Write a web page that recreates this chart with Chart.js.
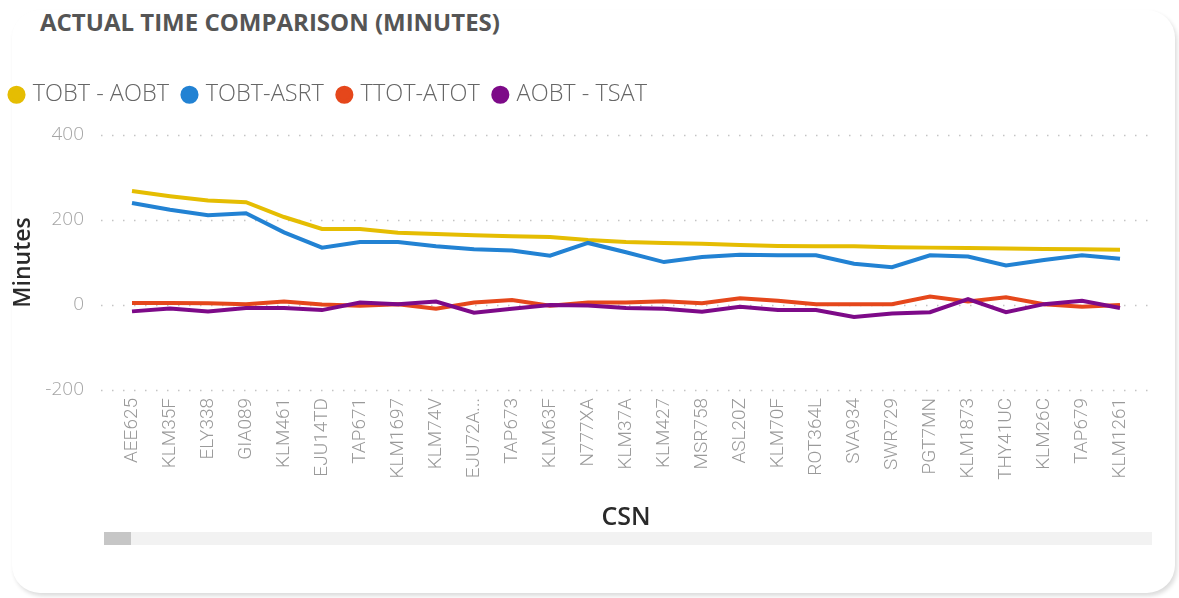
<!DOCTYPE html>
<html>
<head>
<meta charset="utf-8">
<script src="https://cdn.jsdelivr.net/npm/chart.js@4.4.1/dist/chart.umd.min.js"></script>
<style>
  html, body { margin: 0; padding: 0; background: #fff; }
  body { width: 1179px; height: 598px; position: relative; overflow: hidden; }
  .card {
    position: absolute; left: 12px; top: 10px; width: 1163px; height: 583px;
    border-radius: 28px; background: #fff;
    box-shadow: 2px 3px 4px rgba(0, 0, 0, 0.14);
  }
  .title {
    position: absolute; left: 40px; top: 5px;
    font: 700 24px "Open Sans", sans-serif; color: #555;
  }
  .chart-box { position: absolute; left: -4px; top: 67px; width: 1174px; height: 468px; }
  .scroll-track { position: absolute; left: 104px; top: 532px; width: 1048px; height: 13px; background: #f2f2f2; }
  .scroll-thumb { position: absolute; left: 104px; top: 532px; width: 27px; height: 13px; background: #c6c6c6; }
</style>
</head>
<body>
<div class="card"></div>
<div class="title">ACTUAL TIME COMPARISON (MINUTES)</div>
<div class="chart-box"><canvas id="timeChart"></canvas></div>
<div class="scroll-track"></div>
<div class="scroll-thumb"></div>

<script>
// Flights (CSN) on the x axis
const flights = [
  'AEE625', 'KLM35F', 'ELY338', 'GIA089', 'KLM461', 'EJU14TD', 'TAP671', 'KLM1697', 'KLM74V',
  'EJU72A...', 'TAP673', 'KLM63F', 'N777XA', 'KLM37A', 'KLM427', 'MSR758', 'ASL20Z', 'KLM70F',
  'ROT364L', 'SVA934', 'SWR729', 'PGT7MN', 'KLM1873', 'THY41UC', 'KLM26C', 'TAP679', 'KLM1261'
];

// Series values (minutes)
const tobtAobt = [268, 256, 246, 242, 207, 179, 179, 170, 167, 164, 162, 160, 153, 148, 146, 144, 141, 139, 138, 138, 136, 135, 134, 133, 132, 131, 130];
const tobtAsrt = [240, 224, 211, 216, 171, 135, 148, 148, 138, 131, 128, 116, 146, 124, 101, 113, 118, 117, 117, 97, 89, 117, 114, 93, 106, 117, 109];
const ttotAtot = [5, 5, 4, 2, 8, 1, -2, 2, -9, 6, 12, -2, 6, 6, 9, 4, 16, 10, 2, 2, 2, 20, 8, 18, 2, -4, 0];
const aobtTsat = [-15, -8, -15, -7, -7, -12, 6, 2, 8, -18, -9, 0, -1, -7, -9, -16, -4, -12, -12, -28, -20, -17, 14, -17, 2, 10, -7];

// Y axis ticks
const yMin = -200;
const yMax = 400;
const yStep = 200;

/**
 * Dotted horizontal gridlines, a bit wider than the plot area
 */
const dottedGrid = {
  id: 'dottedGrid',
  beforeDatasetsDraw(chart) {
    const { ctx, chartArea, scales } = chart;
    ctx.save();
    ctx.strokeStyle = '#c4c4c4';
    ctx.lineWidth = 1.5;
    ctx.setLineDash([1.5, 9.5]);
    scales.y.ticks.forEach((tick) => {
      const y = Math.round(scales.y.getPixelForValue(tick.value)) + 0.5;
      ctx.beginPath();
      ctx.moveTo(chartArea.left - 12, y);
      ctx.lineTo(chartArea.right + 14, y);
      ctx.stroke();
    });
    ctx.restore();
  }
};

/**
 * Fixed legend height so the plot sits where it should
 */
const legendHeight = {
  id: 'legendHeight',
  beforeInit(chart) {
    const fitOrig = chart.legend.fit;
    chart.legend.fit = function () {
      fitOrig.call(this);
      this.height = 68;
    };
  }
};

function makeSeries(label, data, color, order) {
  return {
    label: label,
    data: data,
    borderColor: color,
    backgroundColor: color,
    borderWidth: 4,
    pointRadius: 0,
    tension: 0,
    order: order
  };
}

const ctx = document.getElementById('timeChart').getContext('2d');

const chart = new Chart(ctx, {
  type: 'line',
  data: {
    labels: flights,
    datasets: [
      makeSeries('TOBT - AOBT', tobtAobt, '#E5BD02', 3),
      makeSeries('TOBT-ASRT', tobtAsrt, '#2282D3', 2),
      makeSeries('TTOT-ATOT', ttotAtot, '#E5471B', 1),
      makeSeries('AOBT - TSAT', aobtTsat, '#7D0A88', 0)
    ]
  },
  options: {
    responsive: true,
    maintainAspectRatio: false,
    animation: false,
    events: [],
    layout: {
      padding: { left: 0, right: 31, top: 0, bottom: 0 }
    },
    plugins: {
      title: { display: false },
      tooltip: { enabled: false },
      legend: {
        position: 'top',
        align: 'start',
        labels: {
          usePointStyle: true,
          pointStyle: 'circle',
          boxWidth: 9,
          boxHeight: 10,
          padding: 16,
          color: '#666',
          font: { family: '"Open Sans", sans-serif', size: 23.5, weight: '300' },
          sort: (a, b) => a.datasetIndex - b.datasetIndex
        }
      }
    },
    scales: {
      x: {
        offset: true,
        afterFit: (scale) => { scale.height = 145; },
        grid: { display: false, drawTicks: false },
        border: { display: false },
        ticks: {
          autoSkip: false,
          minRotation: 90,
          maxRotation: 90,
          padding: 8,
          color: '#9a9a9a',
          font: { family: 'Roboto, sans-serif', size: 19, weight: '300' }
        },
        title: {
          display: true,
          text: 'CSN',
          color: '#2a2a2a',
          padding: { top: 0, bottom: 2 },
          font: { family: '"Open Sans", sans-serif', size: 25, weight: '600' }
        }
      },
      y: {
        min: yMin,
        max: yMax,
        afterFit: (scale) => { scale.width = 117; },
        grid: { display: false, drawTicks: false },
        border: { display: false },
        ticks: {
          stepSize: yStep,
          padding: 29,
          color: '#a4a4a4',
          font: { family: '"Open Sans", sans-serif', size: 19, weight: '300' }
        },
        title: {
          display: true,
          text: 'Minutes',
          color: '#2a2a2a',
          padding: { top: 14, bottom: 0 },
          font: { family: '"Open Sans", sans-serif', size: 23, weight: '600' }
        }
      }
    }
  },
  plugins: [dottedGrid, legendHeight]
});
</script>
</body>
</html>
